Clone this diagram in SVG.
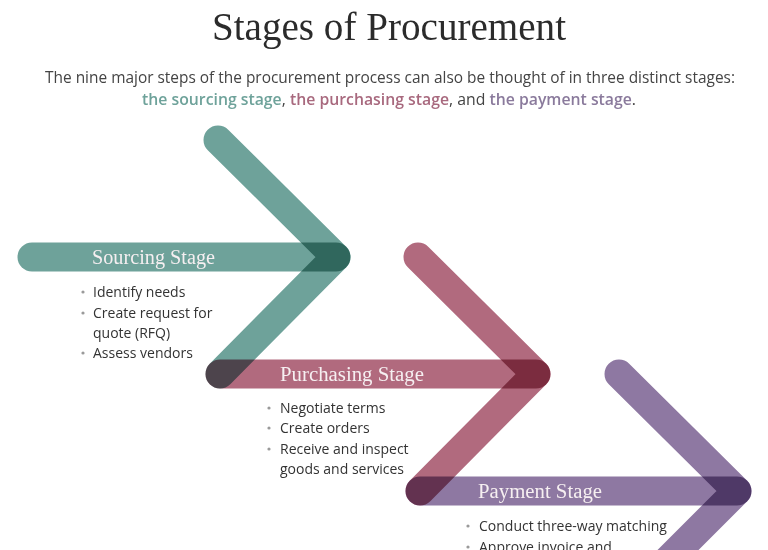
<svg xmlns="http://www.w3.org/2000/svg" width="768" height="550" viewBox="0 0 768 550">
<style>
.band{fill:none;stroke-width:29;stroke-linecap:round;stroke-linejoin:round;mix-blend-mode:multiply}
.teal{stroke:#6ea29a}
.rose{stroke:#b16a7e}
.plum{stroke:#8e78a2}
.title{font-family:"Liberation Serif","DejaVu Serif",serif;font-size:40px;fill:#2b2b2b}
.sub{font-family:"Open Sans","Liberation Sans",sans-serif;font-size:16.5px;fill:#444}
.sb{font-weight:600}
.lbl{font-family:"Liberation Serif","DejaVu Serif",serif;font-size:20px;fill:#f6eff1}
.item{font-family:"Open Sans","Liberation Sans",sans-serif;font-size:14px;fill:#333}
.dot{fill:#9a9a9a}
</style>
<rect width="768" height="550" fill="#ffffff"/>
<g id="header">
<text class="title" x="389" y="40" text-anchor="middle" textLength="354" lengthAdjust="spacingAndGlyphs">Stages of Procurement</text>
<text class="sub" x="390" y="83" text-anchor="middle" textLength="690" lengthAdjust="spacingAndGlyphs">The nine major steps of the procurement process can also be thought of in three distinct stages:</text>
<text class="sub" x="389" y="105" text-anchor="middle" textLength="494" lengthAdjust="spacingAndGlyphs"><tspan class="sb" fill="#6ea29a">the sourcing stage</tspan>, <tspan class="sb" fill="#a8697e">the purchasing stage</tspan>, and <tspan class="sb" fill="#8a7a9c">the payment stage</tspan>.</text>
</g>
<g id="connectors">
<polyline class="band teal" points="218,140 336,257 220,374"/>
<polyline class="band rose" points="418,257 536,374 420,491"/>
<polyline class="band plum" points="619,374 737,491 620,608"/>
</g>
<g id="sourcing">
<line class="band teal" x1="32" y1="257" x2="336" y2="257"/>
<text class="lbl" x="92" y="264" textLength="123" lengthAdjust="spacingAndGlyphs">Sourcing Stage</text>
<circle class="dot" cx="83" cy="292" r="1.6"/>
<text class="item" x="93" y="297">Identify needs</text>
<circle class="dot" cx="83" cy="313" r="1.6"/>
<text class="item" x="93" y="318">Create request for</text>
<text class="item" x="93" y="338">quote (RFQ)</text>
<circle class="dot" cx="83" cy="353" r="1.6"/>
<text class="item" x="93" y="358">Assess vendors</text>
</g>
<g id="purchasing">
<line class="band rose" x1="220" y1="374" x2="536" y2="374"/>
<text class="lbl" x="280" y="381" textLength="144" lengthAdjust="spacingAndGlyphs">Purchasing Stage</text>
<circle class="dot" cx="269" cy="408" r="1.6"/>
<text class="item" x="280" y="413">Negotiate terms</text>
<circle class="dot" cx="269" cy="428" r="1.6"/>
<text class="item" x="280" y="433">Create orders</text>
<circle class="dot" cx="269" cy="449" r="1.6"/>
<text class="item" x="280" y="454">Receive and inspect</text>
<text class="item" x="280" y="474">goods and services</text>
</g>
<g id="payment">
<line class="band plum" x1="420" y1="491" x2="737" y2="491"/>
<text class="lbl" x="478" y="498" textLength="124" lengthAdjust="spacingAndGlyphs">Payment Stage</text>
<circle class="dot" cx="468" cy="526" r="1.6"/>
<text class="item" x="479" y="531">Conduct three-way matching</text>
<circle class="dot" cx="468" cy="547" r="1.6"/>
<text class="item" x="479" y="552">Approve invoice and</text>
</g>
</svg>
